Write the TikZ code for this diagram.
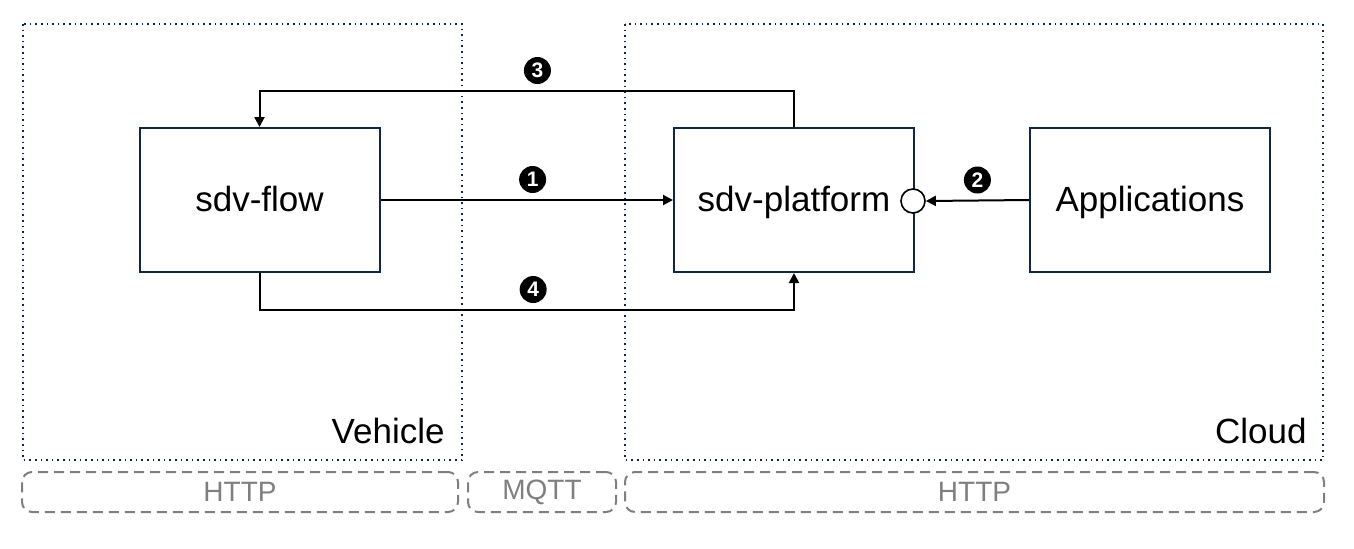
\documentclass[tikz,border=0pt]{standalone}
\usepackage{fontspec}
\setmainfont{Liberation Sans}
\usetikzlibrary{arrows.meta}
\usetikzlibrary{positioning}
\definecolor{navy}{HTML}{0E2841}
\definecolor{protogray}{HTML}{7F7F7F}

\begin{document}
\begin{tikzpicture}[x=0.5pt,y=-0.5pt,
            conn/.style = {-{Triangle[length=5pt,width=5pt]},line width=1pt},
            block/.style = {draw=navy,line width=1pt,minimum width=120pt,
                minimum height=72pt,text depth=1pt,font=\fontsize{17.5}{20}\selectfont},
            zone/.style = {draw=navy,line width=0.8pt,dotted},
            zonelabel/.style = {inner sep=0pt,font=\fontsize{17.5}{20}\selectfont},
            proto/.style = {draw=protogray,line width=1pt,dash pattern=on 5pt off 3pt,
                rounded corners=5pt,text=protogray,font=\fontsize{14}{16}\selectfont},
            badge/.style = {circle,fill=black,text=white,inner sep=0pt,
                minimum size=13.5pt,font=\fontsize{10.5}{10.5}\selectfont\bfseries},
            port/.style = {circle,draw=black,fill=white,line width=0.8pt,
                inner sep=0pt,minimum size=12pt}]
            \useasboundingbox (0,0) rectangle (1354,548);
            % zones
            \draw[zone] (23,24) rectangle (462,460);
            \draw[zone] (625,24) rectangle (1323,460);
            \node[zonelabel,anchor=base east] (vehicle) at (445,443) {Vehicle};
            \node[zonelabel,anchor=base east] (cloud) at (1307,443) {Cloud};
            % protocols
            \node[proto,minimum width=218pt,minimum height=20pt] (http1) at (240,492) {HTTP};
            \node[proto,minimum width=74pt,minimum height=20pt] (mqtt) at (542,492) {MQTT};
            \node[proto,minimum width=349.5pt,minimum height=20pt] (http2) at (974.5,492) {HTTP};
            % blocks
            \node[block] (flow) at (259.5,200) {sdv-flow};
            \node[block] (platform) at (794,200) {sdv-platform};
            \node[block] (apps) at (1150,200) {Applications};
            \node[port] (api) at (913,201) {};
            % connectors
            \draw[conn] (flow.east) -- node[badge,above=3pt,pos=0.52] (n1) {1} (platform.west);
            \draw[conn] (apps.west) -- node[badge,above=3pt] (n2) {2} (api.east);
            \draw[conn] (platform.north) -- ++(0,-36) -| node[badge,above=3pt,pos=0.24] (n3) {3} (flow.north);
            \draw[conn] (flow.south) -- ++(0,37) -| node[badge,above=3pt,pos=0.256] (n4) {4} (platform.south);
\end{tikzpicture}
\end{document}
